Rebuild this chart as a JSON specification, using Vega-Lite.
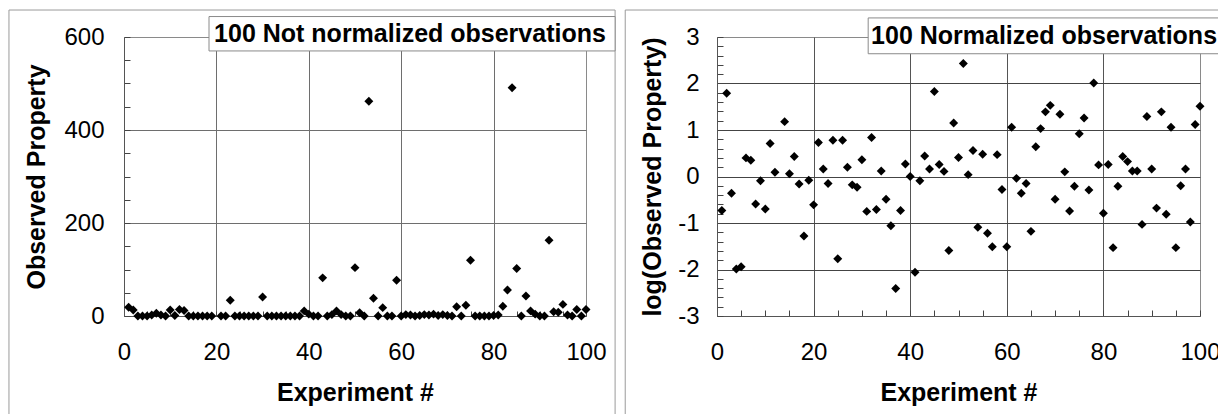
{
  "$schema": "https://vega.github.io/schema/vega-lite/v6.json",
  "padding": {"left": 7, "top": 9, "right": 0, "bottom": 0},
  "bounds": "flush",
  "spacing": 131,
  "config": {
    "font": "Liberation Sans",
    "view": {"stroke": "#8a8a8a", "strokeWidth": 1},
    "axis": {
      "labelFont": "Liberation Sans",
      "titleFont": "Liberation Sans",
      "labelColor": "black",
      "titleColor": "black",
      "labelFontSize": 24,
      "titleFontSize": 25,
      "titleFontWeight": "bold",
      "domainColor": "#555555",
      "tickColor": "#444444",
      "tickWidth": 1,
      "labelOverlap": false,
      "labelFlush": false
    }
  },
  "datasets": {
    "raw": [
      {"exp": 1, "value": 19}, {"exp": 2, "value": 13}, {"exp": 3, "value": 0}, {"exp": 4, "value": 0},
      {"exp": 5, "value": 0}, {"exp": 6, "value": 2}, {"exp": 7, "value": 6}, {"exp": 8, "value": 2},
      {"exp": 9, "value": 0}, {"exp": 10, "value": 13}, {"exp": 11, "value": 1}, {"exp": 12, "value": 14},
      {"exp": 13, "value": 12}, {"exp": 14, "value": 0}, {"exp": 15, "value": 0}, {"exp": 16, "value": 0},
      {"exp": 17, "value": 0}, {"exp": 18, "value": 0}, {"exp": 19, "value": 0},
      {"exp": 21, "value": 0}, {"exp": 22, "value": 0}, {"exp": 23, "value": 34}, {"exp": 24, "value": 0},
      {"exp": 25, "value": 0}, {"exp": 26, "value": 0}, {"exp": 27, "value": 0}, {"exp": 28, "value": 0},
      {"exp": 29, "value": 0}, {"exp": 30, "value": 41}, {"exp": 31, "value": 0}, {"exp": 32, "value": 0},
      {"exp": 33, "value": 0}, {"exp": 34, "value": 0}, {"exp": 35, "value": 0}, {"exp": 36, "value": 0},
      {"exp": 37, "value": 0}, {"exp": 38, "value": 0}, {"exp": 39, "value": 11}, {"exp": 40, "value": 4},
      {"exp": 41, "value": 0}, {"exp": 42, "value": 0}, {"exp": 43, "value": 82}, {"exp": 44, "value": 0},
      {"exp": 45, "value": 3}, {"exp": 46, "value": 11}, {"exp": 47, "value": 3}, {"exp": 48, "value": 0},
      {"exp": 49, "value": 0}, {"exp": 50, "value": 104}, {"exp": 51, "value": 7}, {"exp": 52, "value": 0},
      {"exp": 53, "value": 462}, {"exp": 54, "value": 38}, {"exp": 55, "value": 0}, {"exp": 56, "value": 18},
      {"exp": 57, "value": 0}, {"exp": 58, "value": 0}, {"exp": 59, "value": 77}, {"exp": 60, "value": 0},
      {"exp": 61, "value": 3}, {"exp": 62, "value": 2}, {"exp": 63, "value": 0}, {"exp": 64, "value": 1},
      {"exp": 65, "value": 3}, {"exp": 66, "value": 2}, {"exp": 67, "value": 4}, {"exp": 68, "value": 1},
      {"exp": 69, "value": 3}, {"exp": 70, "value": 1}, {"exp": 71, "value": 0}, {"exp": 72, "value": 20},
      {"exp": 73, "value": 0}, {"exp": 74, "value": 23}, {"exp": 75, "value": 120}, {"exp": 76, "value": 0},
      {"exp": 77, "value": 0}, {"exp": 78, "value": 0}, {"exp": 79, "value": 0}, {"exp": 80, "value": 1},
      {"exp": 81, "value": 2}, {"exp": 82, "value": 21}, {"exp": 83, "value": 56}, {"exp": 84, "value": 491},
      {"exp": 85, "value": 102}, {"exp": 86, "value": 0}, {"exp": 87, "value": 43}, {"exp": 88, "value": 11},
      {"exp": 89, "value": 4}, {"exp": 90, "value": 0}, {"exp": 91, "value": 0}, {"exp": 92, "value": 163},
      {"exp": 93, "value": 9}, {"exp": 94, "value": 8}, {"exp": 95, "value": 25}, {"exp": 96, "value": 2},
      {"exp": 97, "value": 0}, {"exp": 98, "value": 14}, {"exp": 99, "value": 0}, {"exp": 100, "value": 14}
    ],
    "normalized": [
      {"exp": 1, "value": -0.73}, {"exp": 2, "value": 1.79}, {"exp": 3, "value": -0.36}, {"exp": 4, "value": -1.99},
      {"exp": 5, "value": -1.94}, {"exp": 6, "value": 0.40}, {"exp": 7, "value": 0.35}, {"exp": 8, "value": -0.59},
      {"exp": 9, "value": -0.09}, {"exp": 10, "value": -0.70}, {"exp": 11, "value": 0.71}, {"exp": 12, "value": 0.09},
      {"exp": 14, "value": 1.18}, {"exp": 15, "value": 0.06}, {"exp": 16, "value": 0.43},
      {"exp": 17, "value": -0.16}, {"exp": 18, "value": -1.28}, {"exp": 19, "value": -0.08}, {"exp": 20, "value": -0.61},
      {"exp": 21, "value": 0.73}, {"exp": 22, "value": 0.16}, {"exp": 23, "value": -0.15}, {"exp": 24, "value": 0.78},
      {"exp": 25, "value": -1.77}, {"exp": 26, "value": 0.78}, {"exp": 27, "value": 0.20}, {"exp": 28, "value": -0.18},
      {"exp": 29, "value": -0.23}, {"exp": 30, "value": 0.36}, {"exp": 31, "value": -0.75}, {"exp": 32, "value": 0.84},
      {"exp": 33, "value": -0.71}, {"exp": 34, "value": 0.12}, {"exp": 35, "value": -0.49}, {"exp": 36, "value": -1.06},
      {"exp": 37, "value": -2.41}, {"exp": 38, "value": -0.73}, {"exp": 39, "value": 0.27}, {"exp": 40, "value": 0.0},
      {"exp": 41, "value": -2.06}, {"exp": 42, "value": -0.09}, {"exp": 43, "value": 0.44}, {"exp": 44, "value": 0.16},
      {"exp": 45, "value": 1.83}, {"exp": 46, "value": 0.26}, {"exp": 47, "value": 0.11}, {"exp": 48, "value": -1.59},
      {"exp": 49, "value": 1.15}, {"exp": 50, "value": 0.41}, {"exp": 51, "value": 2.43}, {"exp": 52, "value": 0.04},
      {"exp": 53, "value": 0.56}, {"exp": 54, "value": -1.09}, {"exp": 55, "value": 0.48}, {"exp": 56, "value": -1.22},
      {"exp": 57, "value": -1.51}, {"exp": 58, "value": 0.47}, {"exp": 59, "value": -0.28}, {"exp": 60, "value": -1.51},
      {"exp": 61, "value": 1.06}, {"exp": 62, "value": -0.04}, {"exp": 63, "value": -0.36}, {"exp": 64, "value": -0.15},
      {"exp": 65, "value": -1.18}, {"exp": 66, "value": 0.64}, {"exp": 67, "value": 1.03}, {"exp": 68, "value": 1.39},
      {"exp": 69, "value": 1.53}, {"exp": 70, "value": -0.49}, {"exp": 71, "value": 1.34}, {"exp": 72, "value": 0.10},
      {"exp": 73, "value": -0.74}, {"exp": 74, "value": -0.21}, {"exp": 75, "value": 0.92}, {"exp": 76, "value": 1.26},
      {"exp": 77, "value": -0.29}, {"exp": 78, "value": 2.01}, {"exp": 79, "value": 0.25}, {"exp": 80, "value": -0.79},
      {"exp": 81, "value": 0.26}, {"exp": 82, "value": -1.53}, {"exp": 83, "value": -0.21}, {"exp": 84, "value": 0.43},
      {"exp": 85, "value": 0.32}, {"exp": 86, "value": 0.12}, {"exp": 87, "value": 0.12}, {"exp": 88, "value": -1.03},
      {"exp": 89, "value": 1.29}, {"exp": 90, "value": 0.16}, {"exp": 91, "value": -0.68}, {"exp": 92, "value": 1.39},
      {"exp": 93, "value": -0.81}, {"exp": 94, "value": 1.06}, {"exp": 95, "value": -1.53}, {"exp": 96, "value": -0.20},
      {"exp": 97, "value": 0.16}, {"exp": 98, "value": -0.98}, {"exp": 99, "value": 1.12}, {"exp": 100, "value": 1.51}
    ]
  },
  "hconcat": [
    {
      "width": 462,
      "height": 279,
      "resolve": {"axis": {"x": "independent", "y": "independent"}},
      "layer": [
        {
          "data": {"name": "raw"},
          "mark": {"type": "point", "shape": "diamond", "filled": true, "color": "black", "size": 80, "opacity": 1},
          "encoding": {
            "x": {
              "field": "exp", "type": "quantitative",
              "scale": {"domain": [0, 100], "nice": false, "zero": false},
              "axis": {
                "orient": "bottom",
                "title": "Experiment #",
                "values": [0, 5, 10, 15, 20, 25, 30, 35, 40, 45, 50, 55, 60, 65, 70, 75, 80, 85, 90, 95, 100],
                "labelExpr": "datum.value % 20 === 0 ? datum.label : ''",
                "grid": true,
                "gridColor": "#6e6e6e",
                "gridOpacity": {"condition": {"test": "datum.value % 20 === 0 && datum.value > 0 && datum.value < 100", "value": 1}, "value": 0},
                "tickSize": -5,
                "labelPadding": 29,
                "titlePadding": 16
              }
            },
            "y": {
              "field": "value", "type": "quantitative",
              "scale": {"domain": [0, 600], "nice": false, "zero": false},
              "axis": {
                "orient": "left",
                "title": "Observed Property",
                "values": [0, 50, 100, 150, 200, 250, 300, 350, 400, 450, 500, 550, 600],
                "labelExpr": "datum.value % 200 === 0 ? datum.label : ''",
                "grid": true,
                "gridColor": "#6e6e6e",
                "gridOpacity": {"condition": {"test": "datum.value === 200 || datum.value === 400", "value": 1}, "value": 0},
                "tickSize": -6,
                "labelPadding": 26,
                "titlePadding": 14
              }
            }
          }
        },
        {
          "data": {"values": [{}]},
          "mark": {"type": "rect", "fill": null, "stroke": "#9a9a9a", "strokeWidth": 1},
          "encoding": {
            "x": {"datum": -24.9, "type": "quantitative", "axis": null},
            "x2": {"datum": 106.3},
            "y": {"datum": 658, "type": "quantitative", "axis": null},
            "y2": {"datum": -240}
          }
        },
        {
          "data": {"values": [{}]},
          "mark": {"type": "rect", "fill": "white", "stroke": "#8a8a8a", "strokeWidth": 1},
          "encoding": {
            "x": {"datum": 18.4, "type": "quantitative", "axis": null},
            "x2": {"datum": 106.3},
            "y": {"datum": 644, "type": "quantitative", "axis": null},
            "y2": {"datum": 570}
          }
        },
        {
          "data": {"values": [{"label": "100 Not normalized observations"}]},
          "mark": {"type": "text", "align": "left", "baseline": "middle", "fontSize": 25, "fontWeight": "bold", "color": "black"},
          "encoding": {
            "x": {"datum": 19.5, "type": "quantitative", "axis": null},
            "y": {"datum": 607, "type": "quantitative", "axis": null},
            "text": {"field": "label"}
          }
        }
      ]
    },
    {
      "width": 483,
      "height": 279,
      "resolve": {"axis": {"x": "independent", "y": "independent"}},
      "layer": [
        {
          "data": {"name": "normalized"},
          "mark": {"type": "point", "shape": "diamond", "filled": true, "color": "black", "size": 80, "opacity": 1},
          "encoding": {
            "x": {
              "field": "exp", "type": "quantitative",
              "scale": {"domain": [0, 100], "nice": false, "zero": false},
              "axis": {
                "orient": "bottom",
                "title": "Experiment #",
                "values": [0, 5, 10, 15, 20, 25, 30, 35, 40, 45, 50, 55, 60, 65, 70, 75, 80, 85, 90, 95, 100],
                "labelExpr": "datum.value % 20 === 0 ? datum.label : ''",
                "grid": true,
                "gridColor": "#555555",
                "gridOpacity": {"condition": {"test": "datum.value % 20 === 0 && datum.value > 0 && datum.value < 100", "value": 1}, "value": 0},
                "tickSize": -6,
                "labelPadding": 30,
                "titlePadding": 16
              }
            },
            "y": {
              "field": "value", "type": "quantitative",
              "scale": {"domain": [-3, 3], "nice": false, "zero": false},
              "axis": {
                "orient": "left",
                "title": "log(Observed Property)",
                "values": [-3, -2.8, -2.6, -2.4, -2.2, -2, -1.8, -1.6, -1.4, -1.2, -1, -0.8, -0.6, -0.4, -0.2, 0, 0.2, 0.4, 0.6, 0.8, 1, 1.2, 1.4, 1.6, 1.8, 2, 2.2, 2.4, 2.6, 2.8, 3],
                "labelExpr": "abs(datum.value - round(datum.value)) < 0.000001 ? (datum.value < 0 ? '-' + abs(round(datum.value)) : '' + round(datum.value)) : ''",
                "grid": true,
                "gridColor": "#444444",
                "gridOpacity": {"condition": {"test": "abs(datum.value - round(datum.value)) < 0.000001 && abs(datum.value) < 2.5", "value": 1}, "value": 0},
                "tickSize": -6,
                "labelPadding": 24,
                "titlePadding": 12
              }
            }
          }
        },
        {
          "data": {"values": [{}]},
          "mark": {"type": "rect", "fill": null, "stroke": "#9a9a9a", "strokeWidth": 1},
          "encoding": {
            "x": {"datum": -19.0, "type": "quantitative", "axis": null},
            "x2": {"datum": 106},
            "y": {"datum": 3.58, "type": "quantitative", "axis": null},
            "y2": {"datum": -5.5}
          }
        },
        {
          "data": {"values": [{}]},
          "mark": {"type": "rect", "fill": "white", "stroke": "#8a8a8a", "strokeWidth": 1},
          "encoding": {
            "x": {"datum": 31.3, "type": "quantitative", "axis": null},
            "x2": {"datum": 106},
            "y": {"datum": 3.41, "type": "quantitative", "axis": null},
            "y2": {"datum": 2.64}
          }
        },
        {
          "data": {"values": [{"label": "100 Normalized observations"}]},
          "mark": {"type": "text", "align": "left", "baseline": "middle", "fontSize": 25, "fontWeight": "bold", "color": "black"},
          "encoding": {
            "x": {"datum": 31.9, "type": "quantitative", "axis": null},
            "y": {"datum": 3.03, "type": "quantitative", "axis": null},
            "text": {"field": "label"}
          }
        }
      ]
    }
  ]
}
